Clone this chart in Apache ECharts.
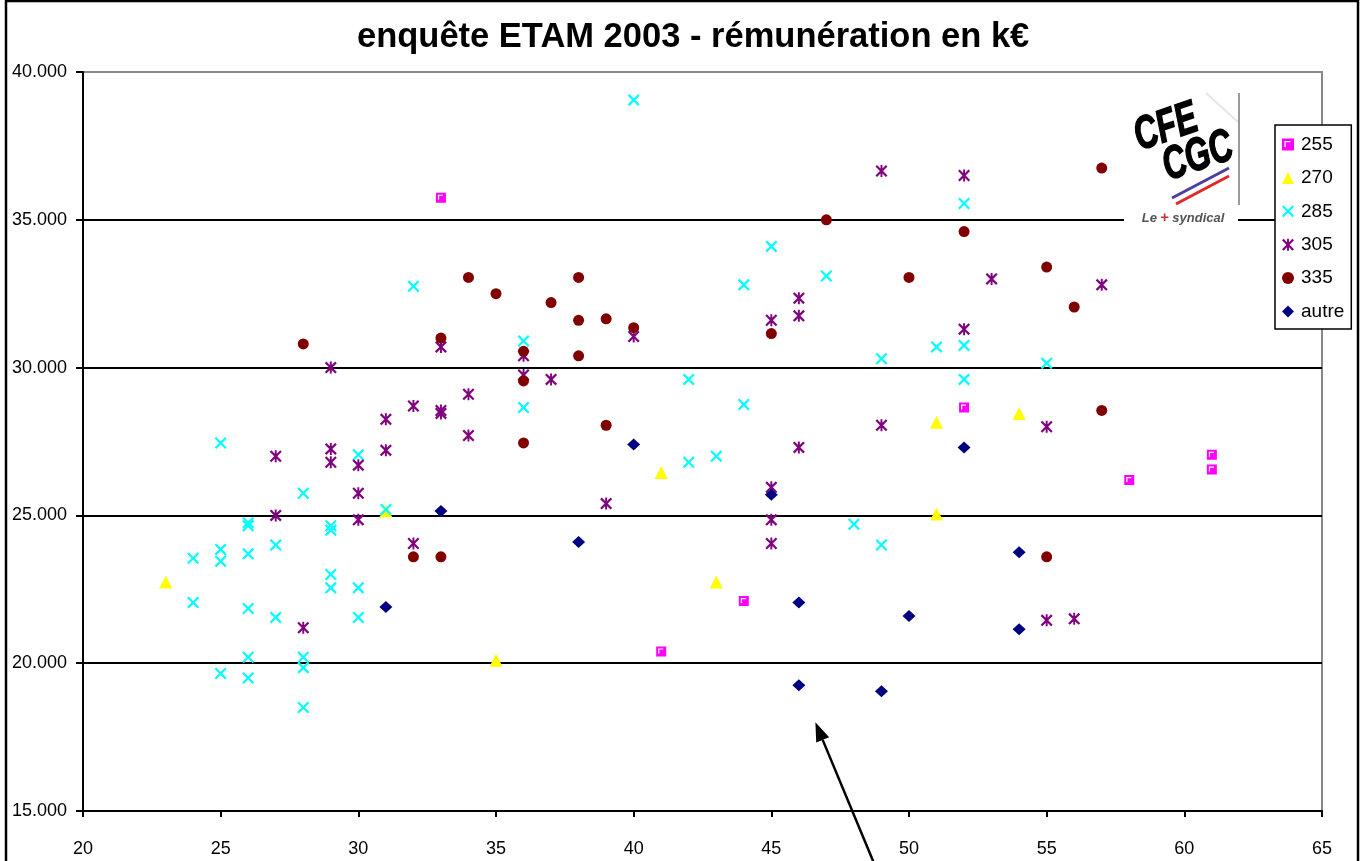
<!DOCTYPE html>
<html>
<head>
<meta charset="utf-8">
<title>enquête ETAM 2003</title>
<script src="https://cdn.jsdelivr.net/npm/echarts/dist/echarts.min.js"></script>
<style>
html, body { margin: 0; padding: 0; background: #fff; }
#chart { width: 1362px; height: 861px; }
</style>
</head>
<body>
<div id="chart"></div>
<script>
// [age, rémunération en €] per coefficient
const s255 = [[33, 35750], [41, 20400], [44, 22100], [52, 28650], [58, 26200], [61, 27050], [61, 26550]]
const s270 = [[23, 22750], [31, 25150], [35, 20100], [41, 26450], [43, 22750], [51, 28150], [51, 25050], [54, 28450]]
const s285 = [
  [24, 23550], [24, 22050],
  [25, 27450], [25, 23850], [25, 23450], [25, 19650],
  [26, 24750], [26, 24650], [26, 23700], [26, 21850], [26, 20200], [26, 19500],
  [27, 24000], [27, 21550],
  [28, 25750], [28, 20200], [28, 19850], [28, 18500],
  [29, 24650], [29, 24500], [29, 23000], [29, 22550],
  [30, 27050], [30, 22550], [30, 21550],
  [31, 25200], [32, 32750], [36, 30900], [36, 28650], [40, 39050],
  [42, 29600], [42, 26800], [43, 27000], [44, 32800], [44, 28750],
  [45, 34100], [47, 33100], [48, 24700], [49, 30300], [49, 24000],
  [51, 30700], [52, 35550], [52, 30750], [52, 29600], [55, 30150]
]
const s305 = [
  [27, 27000], [27, 25000], [28, 21200],
  [29, 30000], [29, 27250], [29, 26800],
  [30, 26700], [30, 25750], [30, 24850],
  [31, 28250], [31, 27200], [32, 28700], [32, 24050],
  [33, 30700], [33, 28550], [33, 28450], [34, 29100], [34, 27700],
  [36, 30400], [36, 29750], [37, 29600], [39, 25400], [40, 31050],
  [45, 31600], [45, 25950], [45, 24850], [45, 24050],
  [46, 32350], [46, 31750], [46, 27300],
  [49, 36650], [49, 28050], [52, 36500], [52, 31300], [53, 33000],
  [55, 28000], [55, 21450], [56, 21500], [57, 32800]
]
const s335 = [
  [28, 30800], [32, 23600], [33, 31000], [33, 23600], [34, 33050], [35, 32500],
  [36, 30550], [36, 29550], [36, 27450], [37, 32200],
  [38, 33050], [38, 31600], [38, 30400], [39, 31650], [39, 28050], [40, 31350],
  [45, 31150], [47, 35000], [50, 33050], [52, 34600],
  [55, 33400], [55, 23600], [56, 32050], [57, 36750], [57, 28550]
]
const sAutre = [
  [31, 21900], [33, 25150], [38, 24100], [40, 27400], [45, 25700],
  [46, 22050], [46, 19250], [49, 19050], [50, 21600], [52, 27300],
  [54, 23750], [54, 21150]
]
const seriesNames = ['255', '270', '285', '305', '335', 'autre']
const xTicks = [20, 65, 5]
const yTicks = [15000, 40000, 5000]
// arrow annotation, in data units (tail, tip)
const arrowTail = [48.7, 13300]
const arrowTip = [46.6, 18000]

const symSquare = 'path://M0,0L10,0L10,10L0,10ZM2,2L2,7L3.2,7L3.2,3.2L7,3.2L7,2Z'
const symCross = 'path://M0,1.3L1.3,0L5,3.7L8.7,0L10,1.3L6.3,5L10,8.7L8.7,10L5,6.3L1.3,10L0,8.7L3.7,5Z'
const symStar = 'path://M0,1.3L1.3,0L5,3.7L8.7,0L10,1.3L6.3,5L10,8.7L8.7,10L5,6.3L1.3,10L0,8.7L3.7,5ZM4.2,0L5.8,0L5.8,10L4.2,10Z'

const font = '"Liberation Sans", Arial, sans-serif'

function fmt (v) {
  return String(v).replace(/\B(?=(\d{3})+(?!\d))/g, '.')
}

function sc (name, data, symbol, size, color) {
  return {
    name: name,
    type: 'scatter',
    data: data,
    symbol: symbol,
    symbolSize: size,
    itemStyle: { color: color, opacity: 1 },
    emphasis: { disabled: true }
  }
}

const chart = echarts.init(document.getElementById('chart'))
chart.setOption({
  animation: false,
  backgroundColor: '#fff',
  textStyle: { fontFamily: font },
  title: {
    text: 'enquête ETAM 2003 - rémunération en k€',
    left: 352,
    top: 15,
    textStyle: { fontFamily: font, fontWeight: 'bold', fontSize: 34.5, color: '#000' }
  },
  grid: {
    left: 83, right: 40, top: 72, bottom: 50,
    show: true, borderColor: '#888', borderWidth: 2, backgroundColor: '#fff'
  },
  legend: {
    orient: 'vertical',
    left: 1275,
    top: 125,
    padding: [10, 7, 8, 7],
    itemWidth: 12,
    itemHeight: 12,
    itemGap: 14.4,
    backgroundColor: '#fff',
    borderColor: '#000',
    borderWidth: 1.5,
    borderRadius: 0,
    data: seriesNames,
    textStyle: { fontFamily: font, fontSize: 19, color: '#000', padding: [0, 0, 0, 2] }
  },
  xAxis: {
    type: 'value',
    min: xTicks[0], max: xTicks[1], interval: xTicks[2],
    axisLine: { show: true, lineStyle: { color: '#000', width: 2 } },
    axisTick: { show: true, length: 6, lineStyle: { color: '#000', width: 2 } },
    axisLabel: { color: '#000', fontSize: 18, margin: 29, fontFamily: font },
    splitLine: { show: false }
  },
  yAxis: {
    type: 'value',
    min: yTicks[0], max: yTicks[1], interval: yTicks[2],
    axisLine: { show: true, lineStyle: { color: '#000', width: 2 } },
    axisTick: { show: true, length: 7, lineStyle: { color: '#000', width: 2 } },
    axisLabel: { color: '#000', fontSize: 18, margin: 16, fontFamily: font, formatter: fmt },
    splitLine: { show: true, showMinLine: false, showMaxLine: false, lineStyle: { color: '#000', width: 2 } }
  },
  series: [
    sc('255', s255, symSquare, 10, '#ff00ff'),
    sc('270', s270, 'triangle', 13, '#ffff00'),
    sc('285', s285, symCross, 12, '#00ffff'),
    sc('305', s305, symStar, 12, '#800080'),
    sc('335', s335, 'circle', 11, '#800000'),
    sc('autre', sAutre, 'diamond', [13, 12], '#000080')
  ]
})

// logo, frame and arrow
const tail = chart.convertToPixel({ gridIndex: 0 }, arrowTail)
const tip = chart.convertToPixel({ gridIndex: 0 }, arrowTip)
const dx = tip[0] - tail[0], dy = tip[1] - tail[1]
const len = Math.sqrt(dx * dx + dy * dy)
const ux = dx / len, uy = dy / len
const bx = tip[0] - ux * 19, by = tip[1] - uy * 19
const px = -uy, py = ux

chart.setOption({
  graphic: [
    { type: 'rect', z: 20, shape: { x: 6, y: 1, width: 1352, height: 900 }, style: { fill: 'none', stroke: '#000', lineWidth: 2.5 } },
    { type: 'rect', z: 20, shape: { x: 1124, y: 92, width: 114, height: 137 }, style: { fill: '#fff' } },
    { type: 'polyline', z: 21, shape: { points: [[1206, 93], [1238, 122]] }, style: { stroke: '#e6e6e6', lineWidth: 2, fill: 'none' } },
    { type: 'line', z: 21, shape: { x1: 1239, y1: 93, x2: 1239, y2: 205 }, style: { stroke: '#9a9a9a', lineWidth: 2 } },
    {
      type: 'text', z: 22, x: 1166, y: 128, rotation: 0.33, scaleX: 0.7,
      style: { text: 'CFE', font: 'italic 900 46px ' + font, fill: '#000', align: 'center', verticalAlign: 'middle', stroke: '#000', lineWidth: 1.5 }
    },
    {
      type: 'text', z: 22, x: 1198, y: 157, rotation: 0.33, scaleX: 0.7,
      style: { text: 'CGC', font: 'italic 900 46px ' + font, fill: '#000', align: 'center', verticalAlign: 'middle', stroke: '#000', lineWidth: 1.5 }
    },
    { type: 'line', z: 22, shape: { x1: 1172, y1: 198, x2: 1229, y2: 168 }, style: { stroke: '#4a3fa0', lineWidth: 3 } },
    { type: 'line', z: 22, shape: { x1: 1176, y1: 204, x2: 1229, y2: 176 }, style: { stroke: '#e02828', lineWidth: 3 } },
    {
      type: 'text', z: 22, x: 1183, y: 218,
      style: {
        text: '{a|Le} {b|+} {a|syndical}',
        align: 'center', verticalAlign: 'middle',
        rich: {
          a: { font: 'italic bold 13px ' + font, fill: '#555' },
          b: { font: 'bold 15px ' + font, fill: '#d03030' }
        }
      }
    },
    { type: 'line', z: 25, shape: { x1: tail[0], y1: tail[1], x2: bx, y2: by }, style: { stroke: '#000', lineWidth: 2.5 } },
    {
      type: 'polygon', z: 25,
      shape: { points: [tip, [bx + px * 7, by + py * 7], [bx - px * 7, by - py * 7]] },
      style: { fill: '#000' }
    }
  ]
})
</script>
</body>
</html>
